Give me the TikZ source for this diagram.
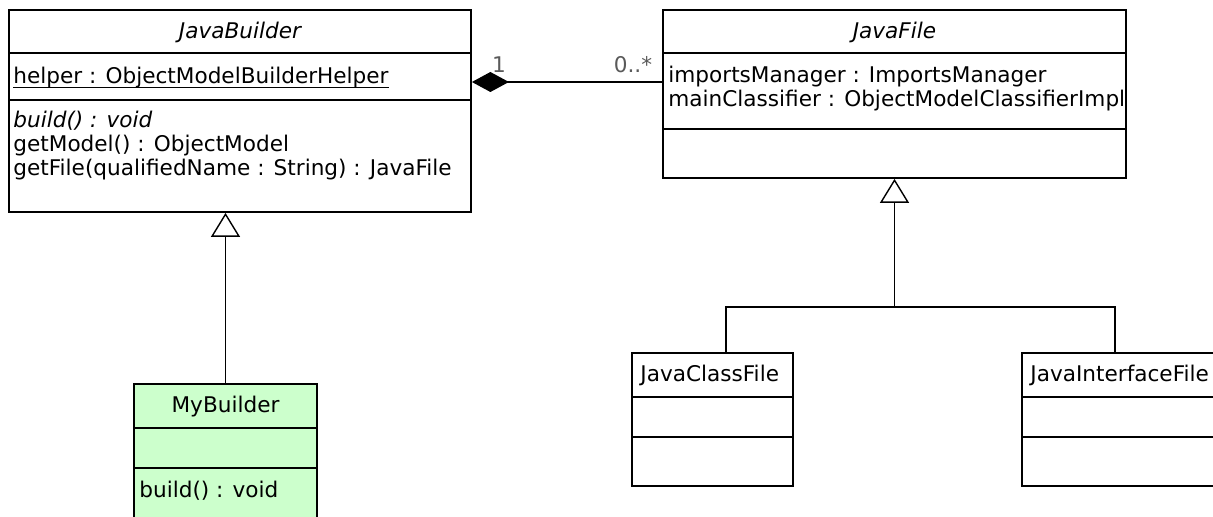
\documentclass[tikz,border=0pt]{standalone}
\usepackage{fontspec}
\setmainfont{DejaVu Sans}
\usetikzlibrary{arrows.meta}
\definecolor{builderfill}{RGB}{204,255,204}
\definecolor{multgray}{RGB}{90,90,90}
\newcommand{\umlfont}{\fontsize{10.8}{12}\selectfont}

\begin{document}
\begin{tikzpicture}[x=0.5pt,y=-0.5pt,
		classbox/.style={draw=black,line width=0.9pt,fill=white,inner sep=0pt},
		member/.style={anchor=base west,inner sep=0pt,font=\umlfont},
		classname/.style={anchor=base,inner sep=0pt,font=\umlfont},
		mult/.style={anchor=center,inner sep=0pt,font=\umlfont,text=multgray},
		sep/.style={line width=0.9pt},
		link/.style={line width=0.7pt},
		gen/.style={link,-{Triangle[open,length=12pt,width=14.5pt]}},
		comp/.style={link,{Diamond[length=18.5pt,width=10pt]}-}]
		\useasboundingbox (0,0) rectangle (1213,517);
		\clip (0,0) rectangle (1213,517);
		
		% the class boxes (sizes in pt, half of the pixel size)
		\node[classbox,minimum width=231pt,minimum height=101pt] (jbuild) at (240,111) {};
		\node[classbox,minimum width=231.5pt,minimum height=84pt] (jfile) at (894.5,94) {};
		\node[classbox,fill=builderfill,minimum width=91.5pt,minimum height=73pt] (myb) at (225.5,457) {};
		\node[classbox,minimum width=80.5pt,minimum height=66.5pt] (jclass) at (712.5,419.5) {};
		\node[classbox,minimum width=104pt,minimum height=66.5pt] (jiface) at (1126,419.5) {};
		
		% compartment lines
		\foreach \n/\y in {jbuild/53,jbuild/100,jfile/53,jfile/129,myb/428,myb/468,
			jclass/397,jclass/437,jiface/397,jiface/437} {
			\draw[sep] (\n.west |- 0,\y) -- (\n.east |- 0,\y);
		}
		
		% names
		\node[classname] (jbuildname) at (240,39) {\itshape JavaBuilder};
		\node[classname] (jfilename) at (894.5,39) {\itshape JavaFile};
		\node[classname] (mybname) at (225.5,413) {MyBuilder};
		\node[member] (jclassname) at (640,382) {JavaClassFile};
		\node[member] (jifacename) at (1030,382) {JavaInterfaceFile};
		
		% attributes and operations
		\node[member] (helperattr) at (13,84) {helper : ObjectModelBuilderHelper};
		\draw[line width=0.6pt] ([yshift=-1.6pt]helperattr.base west) -- ([yshift=-1.6pt]helperattr.base east); % static
		\node[member] (buildop) at (13,128) {\itshape build() : void};
		\node[member] (getmodelop) at (13,152) {getModel() : ObjectModel};
		\node[member] (getfileop) at (13,176) {getFile(qualifiedName : String) : JavaFile};
		\node[member] (importsattr) at (668,83) {importsManager : ImportsManager};
		\node[member] (mainattr) at (668,107) {mainClassifier : ObjectModelClassifierImpl};
		\node[member] (mybbuild) at (139,497) {build() : void};
		
		% composition with its multiplicities
		\draw[comp] (jbuild.east |- 0,82) -- (jfile.west |- 0,82);
		\node[mult] (multone) at (499,65) {1};
		\node[mult] (multmany) at (633,65) {0..*};
		
		% generalizations
		\draw[gen] (myb.north) -- (myb.north |- jbuild.south);
		\coordinate (fork) at (jfile.south |- 0,307);
		\draw[gen] (fork) -- (jfile.south);
		\draw[link] (jclass.north -| 726,0) |- (fork) -| (jiface.north -| 1115,0);
\end{tikzpicture}
\end{document}
